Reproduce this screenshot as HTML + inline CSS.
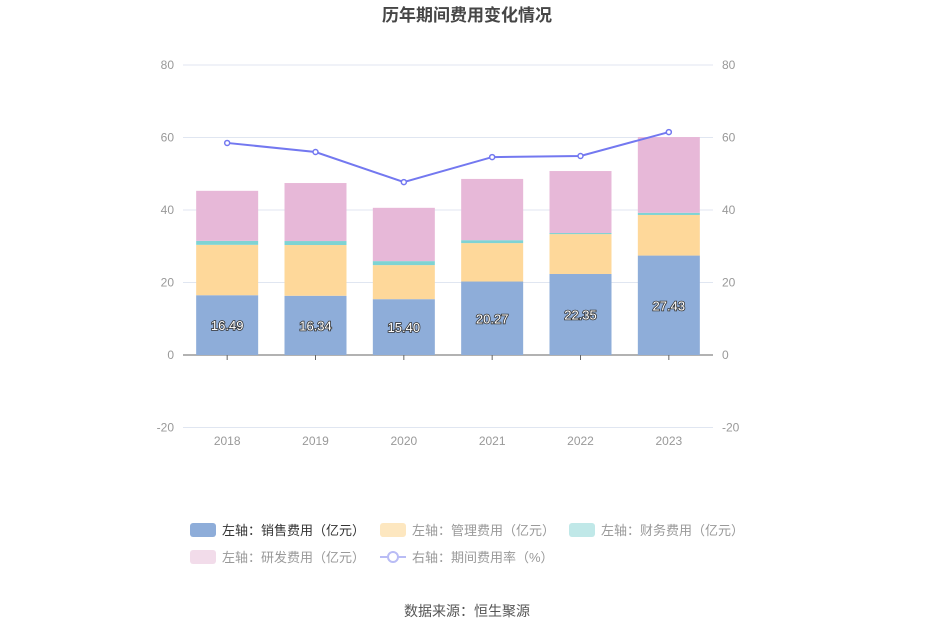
<!DOCTYPE html>
<html><head><meta charset="utf-8"><style>
body{margin:0;background:#fff;font-family:"Liberation Sans","Noto Sans CJK SC",sans-serif;}
svg text{font-family:"Liberation Sans","Noto Sans CJK SC",sans-serif;}
</style></head><body>
<svg id="c" width="935" height="632">
<text x="467" y="21" text-anchor="middle" font-size="17" font-weight="bold" fill="#464646">历年期间费用变化情况</text>
<g id="grid"></g><g id="bars"></g><g id="line"></g><g id="legend"></g>
<text x="467" y="616" text-anchor="middle" font-size="14" fill="#555">数据来源：恒生聚源</text>
</svg>
<script>
const categories=['2018','2019','2020','2021','2022','2023'];
const sales=[16.49,16.34,15.40,20.27,22.35,27.43];
const admin=[13.9,14.0,9.4,10.6,11.0,11.2];
const finance=[1.1,1.1,1.1,0.8,0.3,0.6];
const rnd=[13.8,16.0,14.7,16.9,17.1,20.9];
const rate=[58.5,56.0,47.7,54.6,54.9,61.5];
const ticks=[-20,0,20,40,60,80];
const NS='http://www.w3.org/2000/svg';
const x0=183,x1=713,band=(x1-x0)/categories.length;
const y=v=>355-v*3.625;
const cx=i=>x0+band*(i+0.5);
function mk(p,tag,a){const e=document.createElementNS(NS,tag);for(const k in a)e.setAttribute(k,a[k]);p.appendChild(e);return e;}
const g=document.getElementById('grid'),b=document.getElementById('bars'),l=document.getElementById('line'),lg=document.getElementById('legend');
ticks.forEach(t=>{
 const ln=mk(g,'line',{x1:x0,x2:x1,y1:y(t),y2:y(t),stroke:t===0?'#666':'#e0e6f1','stroke-width':1});
 
 
 const a=mk(g,'text',{x:174,y:y(t)+4,'text-anchor':'end','font-size':12,fill:'#999'});a.textContent=t;
 
 
 const r=mk(g,'text',{x:722,y:y(t)+4,'font-size':12,fill:'#999'});r.textContent=t;
 
 
});
categories.forEach((c,i)=>{
 const tk=mk(g,'line',{x1:cx(i),x2:cx(i),y1:355,y2:360,stroke:'#666'});
 
 
 const t=mk(g,'text',{x:cx(i),y:445,'text-anchor':'middle','font-size':12,fill:'#999'});t.textContent=c;
 
 
});
const series=[[sales,'#8eadd9','sales'],[admin,'#fed89a','admin'],[finance,'#7fd3d3','finance'],[rnd,'#e7b8d8','rnd']];
categories.forEach((c,i)=>{
 let acc=0;
 series.forEach(([arr,col,nm])=>{
  const r=mk(b,'rect',{x:cx(i)-31,y:y(acc+arr[i]),width:62,height:arr[i]*3.625,fill:col});
  
  
  acc+=arr[i];
 });
 const t=mk(b,'text',{x:cx(i),y:y(sales[i]/2)+5,'text-anchor':'middle','font-size':13,fill:'#fff',stroke:'#333','stroke-width':1.6,'paint-order':'stroke'});
 t.textContent=sales[i].toFixed(2);
 
 
});
const pl=mk(l,'polyline',{points:rate.map((v,i)=>cx(i)+','+y(v)).join(' '),fill:'none',stroke:'#7378f0','stroke-width':2});


rate.forEach((v,i)=>{
 const p=mk(l,'circle',{cx:cx(i),cy:y(v),r:2.5,fill:'#fff',stroke:'#7378f0','stroke-width':1.5});
 
 
});
const items=[[190,530,'#8eadd9','左轴：销售费用（亿元）','#333'],[380,530,'#fde7c0','左轴：管理费用（亿元）','#999'],[569,530,'#c0e8e8','左轴：财务费用（亿元）','#999'],[190,557,'#f2dcea','左轴：研发费用（亿元）','#999']];
items.forEach(([x,yy,col,txt,tc])=>{
 const r=mk(lg,'rect',{x:x,y:yy-7,width:26,height:14,rx:3,fill:col});
 
 
 const t=mk(lg,'text',{x:x+32,y:yy+5,'font-size':13,fill:tc});t.textContent=txt;
 
 
});
const ll=mk(lg,'line',{x1:380,x2:406,y1:557,y2:557,stroke:'#b9bcf5','stroke-width':2});


const lc=mk(lg,'circle',{cx:393,cy:557,r:5,fill:'#fff',stroke:'#b9bcf5','stroke-width':2});


const lt=mk(lg,'text',{x:412,y:562,'font-size':13,fill:'#999'});lt.textContent='右轴：期间费用率（%）';


</script>
</body></html>
